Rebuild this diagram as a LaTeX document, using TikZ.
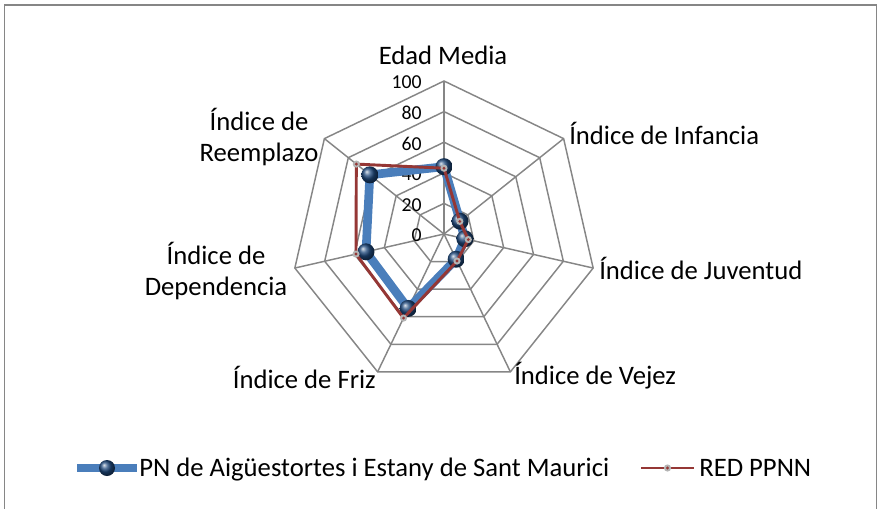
\documentclass[tikz,border=0pt]{standalone}
\usepackage{fontspec}
\setmainfont{Carlito}
\usetikzlibrary{positioning, calc}
\definecolor{gridgray}{RGB}{134,134,134}
\definecolor{serieblue}{RGB}{74,126,187}
\definecolor{ballblue}{RGB}{31,73,125}
\definecolor{seriered}{RGB}{149,55,53}
\definecolor{markgray}{RGB}{180,180,180}

\begin{document}
\begin{tikzpicture}[x=0.75pt, y=0.75pt,
	axis/.style={gridgray, line width=1.1pt},
	lab/.style={inner sep=0pt, font=\fontsize{20}{23}\selectfont},
	tick/.style={inner sep=0pt, anchor=east, font=\fontsize{14.8}{17}\selectfont},
	blueline/.style={serieblue, line width=6.5pt, line join=round},
	redline/.style={seriered, line width=2.2pt, line join=round}]
	\useasboundingbox (0,0) rectangle (877,508);
	\draw[gridgray, line width=1.3pt] (4.5,-5) -- (4.5,503) -- (876.5,503) -- (876.5,-5);
	\begin{scope}[shift={(444,274)}]
		% web
		\foreach \r in {20,40,60,80,100}
			\draw[axis] (90:{1.53*\r}) \foreach \k in {1,...,6} { -- ({90-\k*360/7}:{1.53*\r}) } -- cycle;
		\foreach \k in {0,...,6}
			\draw[axis] (0,0) -- ({90-\k*360/7}:153);
		\foreach \v in {0,20,...,100}
			\node[tick] (t\v) at (-22,{1.53*\v-1.5}) {\v};
		% series
		\foreach \v [count=\k from 0] in {44,13.4,14,18.3,54,52.3,62}
			\coordinate (b\k) at ({90-\k*360/7}:{1.53*\v});
		\foreach \v [count=\k from 0] in {43,13.2,16.3,19.6,61,59,73.3}
			\coordinate (r\k) at ({90-\k*360/7}:{1.53*\v});
		\draw[blueline] (b0) -- (b1) -- (b2) -- (b3) -- (b4) -- (b5) -- (b6) -- cycle;
		\foreach \k in {0,...,6}
			\shade[ball color=ballblue] (b\k) circle (8.5);
		\draw[redline] (r0) -- (r1) -- (r2) -- (r3) -- (r4) -- (r5) -- (r6) -- cycle;
		\foreach \k in {0,...,6} {
			\fill[markgray] (r\k) circle (3.6);
			\fill[seriered] (r\k) circle (1.6);
		}
	\end{scope}
	% axis labels
	\node[lab] (edad) at (443,453) {Edad Media};
	\node[lab, anchor=west] (infancia) at (569,375) {Índice de Infancia};
	\node[lab, anchor=west] (juventud) at (599,240) {Índice de Juventud};
	\node[lab, anchor=west] (vejez) at (514,132) {Índice de Vejez};
	\node[lab, anchor=east] (friz) at (376,131) {Índice de Friz};
	\node[lab, align=center] (dependencia) at (216,237) {Índice de\\Dependencia};
	\node[lab, align=center] (reemplazo) at (259,371) {Índice de\\Reemplazo};
	% legend
	\coordinate (lb1) at (77,40);
	\coordinate (lb2) at (137,40);
	\draw[serieblue, line width=6.5pt] (lb1) -- (lb2);
	\shade[ball color=ballblue] ($(lb1)!0.5!(lb2)$) circle (8);
	\node[lab, anchor=base west] (pn) at (139,32) {PN de Aigüestortes i Estany de Sant Maurici};
	\coordinate (lr1) at (641,40);
	\coordinate (lr2) at (694,40);
	\draw[seriered, line width=2.2pt] (lr1) -- (lr2);
	\fill[markgray] ($(lr1)!0.5!(lr2)$) circle (3.6);
	\fill[seriered] ($(lr1)!0.5!(lr2)$) circle (1.6);
	\node[lab, anchor=base west] (red) at (699,32) {RED PPNN};
\end{tikzpicture}
\end{document}
